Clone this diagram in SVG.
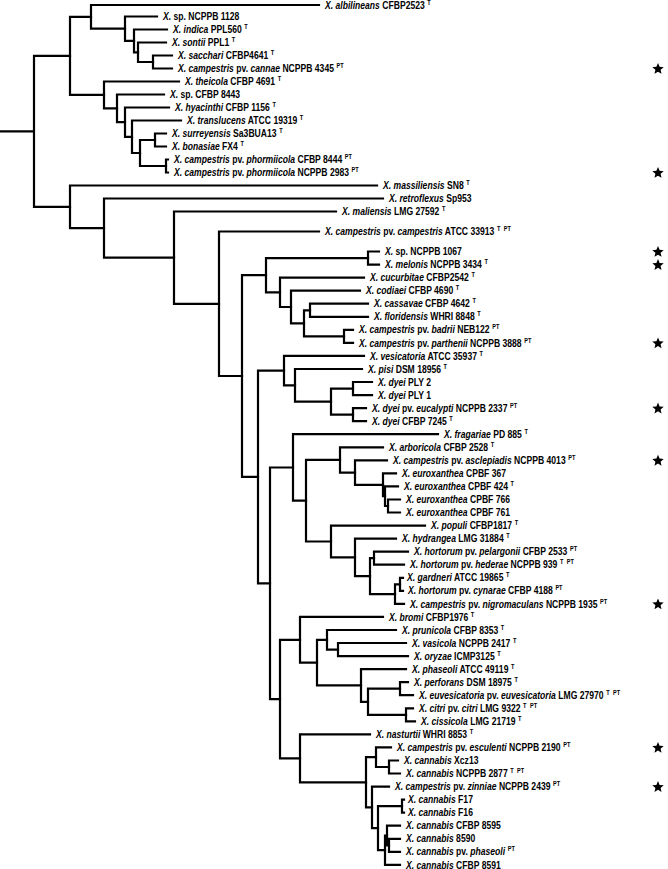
<svg xmlns="http://www.w3.org/2000/svg" xmlns:xlink="http://www.w3.org/1999/xlink" width="668" height="869" viewBox="0 0 668 869">
<style>
text { font-family: "Liberation Sans", Arial, sans-serif; font-size: 10px; font-weight: bold; fill: #000; }
.i { font-style: italic; }
.s { font-size: 6.5px; font-style: normal; }
.tree { fill: none; stroke: #000; stroke-width: 2.2; stroke-linecap: square; }
.star { fill: #000; }
</style>
<defs>
<path id="star" class="star" d="M0,-6 L1.59,-2.18 L5.71,-1.85 L2.57,0.83 L3.53,4.85 L0,2.7 L-3.53,4.85 L-2.57,0.83 L-5.71,-1.85 L-1.59,-2.18 Z"/>
</defs>
<rect width="668" height="869" fill="#fff"/>
<g id="connectors" class="tree">
<path d="M0 131.3H34 M34 55.9V206.8 M34 55.9H70 M34 206.8H70"/>
<path d="M70 16.8V94.9 M70 16.8H91 M70 94.9H104"/>
<path d="M91 5V28.7 M91 5H319 M91 28.7H125"/>
<path d="M125 16.5V40.9 M125 16.5H157 M125 40.9H134"/>
<path d="M134 29.5V52.3 M134 29.5H167 M134 52.3H138"/>
<path d="M138 42.5V62 M138 42.5H166 M138 62H153"/>
<path d="M153 55.5V68.5 M153 55.5H172 M153 68.5H172"/>
<path d="M104 81.5V108.3 M104 81.5H179 M104 108.3H117"/>
<path d="M117 94.5V122.1 M117 94.5H164 M117 122.1H125"/>
<path d="M125 107.5V136.8 M125 107.5H169 M125 136.8H132"/>
<path d="M132 120.5V153 M132 120.5H181 M132 153H140"/>
<path d="M140 140V166 M140 140H155 M140 166H166"/>
<path d="M155 133.5V146.5 M155 133.5H166 M155 146.5H166"/>
<path d="M166 159.5V172.5 M166 159.5H168 M166 172.5H168"/>
<path d="M70 185.5V228.1 M70 185.5H377 M70 228.1H104"/>
<path d="M104 198.5V257.6 M104 198.5H383 M104 257.6H174"/>
<path d="M174 211.5V303.8 M174 211.5H336 M174 303.8H219"/>
<path d="M219 231.5V376 M219 231.5H319 M219 376H242"/>
<path d="M242 275.2V476.9 M242 275.2H266 M242 476.9H258"/>
<path d="M266 258.1V292.3 M266 258.1H368 M266 292.3H280"/>
<path d="M368 251.5V264.6 M368 251.5H379 M368 264.6H379"/>
<path d="M280 277.6V307 M280 277.6H364 M280 307H291"/>
<path d="M291 290.7V323.3 M291 290.7H360 M291 323.3H304"/>
<path d="M304 310.3V336.4 M304 310.3H310 M304 336.4H344"/>
<path d="M310 303.7V316.8 M310 303.7H368 M310 316.8H368"/>
<path d="M344 329.8V342.9 M344 329.8H353 M344 342.9H353"/>
<path d="M258 370.6V583.3 M258 370.6H284 M258 583.3H270"/>
<path d="M284 355.9V385.3 M284 355.9H364 M284 385.3H295"/>
<path d="M295 369V401.6 M295 369H362 M295 401.6H331"/>
<path d="M331 388.6V414.7 M331 388.6H353 M331 414.7H353"/>
<path d="M353 382V395.1 M353 382H372 M353 395.1H372"/>
<path d="M353 408.1V421.2 M353 408.1H366 M353 421.2H366"/>
<path d="M270 467.5V699.1 M270 467.5H293 M270 699.1H280"/>
<path d="M293 434.2V500.7 M293 434.2H438 M293 500.7H306"/>
<path d="M306 459.9V541.5 M306 459.9H340 M306 541.5H331"/>
<path d="M340 447.3V472.6 M340 447.3H383 M340 472.6H355"/>
<path d="M355 460.3V484.8 M355 460.3H387 M355 484.8H383"/>
<path d="M383 473.4V496.2 M383 473.4H396 M383 496.2H385"/>
<path d="M385 486.4V506 M385 486.4H398 M385 506H388"/>
<path d="M388 499.5V512.5 M388 499.5H400 M388 512.5H400"/>
<path d="M331 525.6V557.4 M331 525.6H425 M331 557.4H355"/>
<path d="M355 538.6V576.2 M355 538.6H396 M355 576.2H370"/>
<path d="M370 558.2V594.1 M370 558.2H374 M370 594.1H395"/>
<path d="M374 551.7V564.7 M374 551.7H408 M374 564.7H404"/>
<path d="M395 584.3V603.9 M395 584.3H400 M395 603.9H404"/>
<path d="M400 577.8V590.8 M400 577.8H403 M400 590.8H403"/>
<path d="M280 639.8V758.4 M280 639.8H300 M280 758.4H300"/>
<path d="M300 616.9V662.6 M300 616.9H383 M300 662.6H317"/>
<path d="M317 639.8V685.4 M317 639.8H327 M317 685.4H361"/>
<path d="M327 630V649.6 M327 630H396 M327 649.6H338"/>
<path d="M338 643V656.1 M338 643H406 M338 656.1H408"/>
<path d="M361 669.1V701.8 M361 669.1H406 M361 701.8H368"/>
<path d="M368 688.7V714.8 M368 688.7H400 M368 714.8H406"/>
<path d="M400 682.2V695.2 M400 682.2H408 M400 695.2H413"/>
<path d="M406 708.3V721.3 M406 708.3H413 M406 721.3H415"/>
<path d="M300 734.4V782.3 M300 734.4H370 M300 782.3H366"/>
<path d="M366 757.2V807.4 M366 757.2H376 M366 807.4H372"/>
<path d="M376 747.4V767 M376 747.4H391 M376 767H389"/>
<path d="M389 760.5V773.5 M389 760.5H398 M389 773.5H400"/>
<path d="M372 786.6V828.2 M372 786.6H389 M372 828.2H378"/>
<path d="M378 806.2V850.2 M378 806.2H402 M378 850.2H385"/>
<path d="M402 799.6V812.7 M402 799.6H404 M402 812.7H404"/>
<path d="M385 835.5V864.9 M385 835.5H387 M385 864.9H400"/>
<path d="M387 825.7V845.3 M387 825.7H400 M387 845.3H389"/>
<path d="M389 838.8V851.8 M389 838.8H400 M389 851.8H400"/>
</g>
<g id="leaf01"><text transform="translate(325 8.6) scale(.86 1)"><tspan class="i">X. albilineans</tspan> CFBP2523<tspan class="s" dx="3" dy="-4">T</tspan></text></g>
<g id="leaf02"><text transform="translate(163 20.1) scale(.86 1)"><tspan class="i">X.</tspan> sp. NCPPB 1128</text></g>
<g id="leaf03"><text transform="translate(173 33.1) scale(.86 1)"><tspan class="i">X. indica</tspan> PPL560<tspan class="s" dx="3" dy="-4">T</tspan></text></g>
<g id="leaf04"><text transform="translate(172 46.1) scale(.86 1)"><tspan class="i">X. sontii</tspan> PPL1<tspan class="s" dx="3" dy="-4">T</tspan></text></g>
<g id="leaf05"><text transform="translate(178 59.1) scale(.86 1)"><tspan class="i">X. sacchari</tspan> CFBP4641<tspan class="s" dx="3" dy="-4">T</tspan></text></g>
<g id="leaf06"><text transform="translate(178 72.1) scale(.86 1)"><tspan class="i">X. campestris</tspan> pv. <tspan class="i">cannae</tspan> NCPPB 4345<tspan class="s" dx="3" dy="-4">PT</tspan></text><use href="#star" xlink:href="#star" x="658" y="69"/></g>
<g id="leaf07"><text transform="translate(185 85.1) scale(.86 1)"><tspan class="i">X. theicola</tspan> CFBP 4691<tspan class="s" dx="3" dy="-4">T</tspan></text></g>
<g id="leaf08"><text transform="translate(170 98.1) scale(.86 1)"><tspan class="i">X.</tspan> sp. CFBP 8443</text></g>
<g id="leaf09"><text transform="translate(175 111.1) scale(.86 1)"><tspan class="i">X. hyacinthi</tspan> CFBP 1156<tspan class="s" dx="3" dy="-4">T</tspan></text></g>
<g id="leaf10"><text transform="translate(187 124.1) scale(.86 1)"><tspan class="i">X. translucens</tspan> ATCC 19319<tspan class="s" dx="3" dy="-4">T</tspan></text></g>
<g id="leaf11"><text transform="translate(172 137.1) scale(.86 1)"><tspan class="i">X. surreyensis</tspan> Sa3BUA13<tspan class="s" dx="3" dy="-4">T</tspan></text></g>
<g id="leaf12"><text transform="translate(172 150.1) scale(.86 1)"><tspan class="i">X. bonasiae</tspan> FX4<tspan class="s" dx="3" dy="-4">T</tspan></text></g>
<g id="leaf13"><text transform="translate(174 163.1) scale(.86 1)"><tspan class="i">X. campestris</tspan> pv. <tspan class="i">phormiicola</tspan> CFBP 8444<tspan class="s" dx="3" dy="-4">PT</tspan></text></g>
<g id="leaf14"><text transform="translate(174 176.1) scale(.86 1)"><tspan class="i">X. campestris</tspan> pv. <tspan class="i">phormiicola</tspan> NCPPB 2983<tspan class="s" dx="3" dy="-4">PT</tspan></text><use href="#star" xlink:href="#star" x="658" y="173"/></g>
<g id="leaf15"><text transform="translate(383 189.1) scale(.86 1)"><tspan class="i">X. massiliensis</tspan> SN8<tspan class="s" dx="3" dy="-4">T</tspan></text></g>
<g id="leaf16"><text transform="translate(389 202.1) scale(.86 1)"><tspan class="i">X. retroflexus</tspan> Sp953</text></g>
<g id="leaf17"><text transform="translate(342 215.1) scale(.86 1)"><tspan class="i">X. maliensis</tspan> LMG 27592<tspan class="s" dx="3" dy="-4">T</tspan></text></g>
<g id="leaf18"><text transform="translate(325 235.1) scale(.86 1)"><tspan class="i">X. campestris</tspan> pv. <tspan class="i">campestris</tspan> ATCC 33913<tspan class="s" dx="3" dy="-4">T</tspan><tspan class="s" dx="4">PT</tspan></text></g>
<g id="leaf19"><text transform="translate(385 255.1) scale(.86 1)"><tspan class="i">X.</tspan> sp. NCPPB 1067</text><use href="#star" xlink:href="#star" x="658" y="252"/></g>
<g id="leaf20"><text transform="translate(385 268.2) scale(.86 1)"><tspan class="i">X. melonis</tspan> NCPPB 3434<tspan class="s" dx="3" dy="-4">T</tspan></text><use href="#star" xlink:href="#star" x="658" y="265.1"/></g>
<g id="leaf21"><text transform="translate(370 281.2) scale(.86 1)"><tspan class="i">X. cucurbitae</tspan> CFBP2542<tspan class="s" dx="3" dy="-4">T</tspan></text></g>
<g id="leaf22"><text transform="translate(366 294.3) scale(.86 1)"><tspan class="i">X. codiaei</tspan> CFBP 4690<tspan class="s" dx="3" dy="-4">T</tspan></text></g>
<g id="leaf23"><text transform="translate(374 307.3) scale(.86 1)"><tspan class="i">X. cassavae</tspan> CFBP 4642<tspan class="s" dx="3" dy="-4">T</tspan></text></g>
<g id="leaf24"><text transform="translate(374 320.4) scale(.86 1)"><tspan class="i">X. floridensis</tspan> WHRI 8848<tspan class="s" dx="3" dy="-4">T</tspan></text></g>
<g id="leaf25"><text transform="translate(359 333.4) scale(.86 1)"><tspan class="i">X. campestris</tspan> pv. <tspan class="i">badrii</tspan> NEB122<tspan class="s" dx="3" dy="-4">PT</tspan></text></g>
<g id="leaf26"><text transform="translate(359 346.5) scale(.86 1)"><tspan class="i">X. campestris</tspan> pv. <tspan class="i">parthenii</tspan> NCPPB 3888<tspan class="s" dx="3" dy="-4">PT</tspan></text><use href="#star" xlink:href="#star" x="658" y="343.4"/></g>
<g id="leaf27"><text transform="translate(370 359.5) scale(.86 1)"><tspan class="i">X. vesicatoria</tspan> ATCC 35937<tspan class="s" dx="3" dy="-4">T</tspan></text></g>
<g id="leaf28"><text transform="translate(368 372.6) scale(.86 1)"><tspan class="i">X. pisi</tspan> DSM 18956<tspan class="s" dx="3" dy="-4">T</tspan></text></g>
<g id="leaf29"><text transform="translate(378 385.6) scale(.86 1)"><tspan class="i">X. dyei</tspan> PLY 2</text></g>
<g id="leaf30"><text transform="translate(378 398.7) scale(.86 1)"><tspan class="i">X. dyei</tspan> PLY 1</text></g>
<g id="leaf31"><text transform="translate(372 411.7) scale(.86 1)"><tspan class="i">X. dyei</tspan> pv. <tspan class="i">eucalypti</tspan> NCPPB 2337<tspan class="s" dx="3" dy="-4">PT</tspan></text><use href="#star" xlink:href="#star" x="658" y="408.6"/></g>
<g id="leaf32"><text transform="translate(372 424.8) scale(.86 1)"><tspan class="i">X. dyei</tspan> CFBP 7245<tspan class="s" dx="3" dy="-4">T</tspan></text></g>
<g id="leaf33"><text transform="translate(444 437.8) scale(.86 1)"><tspan class="i">X. fragariae</tspan> PD 885<tspan class="s" dx="3" dy="-4">T</tspan></text></g>
<g id="leaf34"><text transform="translate(389 450.9) scale(.86 1)"><tspan class="i">X. arboricola</tspan> CFBP 2528<tspan class="s" dx="3" dy="-4">T</tspan></text></g>
<g id="leaf35"><text transform="translate(393 463.9) scale(.86 1)"><tspan class="i">X. campestris</tspan> pv. <tspan class="i">asclepiadis</tspan> NCPPB 4013<tspan class="s" dx="3" dy="-4">PT</tspan></text><use href="#star" xlink:href="#star" x="658" y="460.8"/></g>
<g id="leaf36"><text transform="translate(402 477) scale(.86 1)"><tspan class="i">X. euroxanthea</tspan> CPBF 367</text></g>
<g id="leaf37"><text transform="translate(404 490) scale(.86 1)"><tspan class="i">X. euroxanthea</tspan> CPBF 424<tspan class="s" dx="3" dy="-4">T</tspan></text></g>
<g id="leaf38"><text transform="translate(406 503.1) scale(.86 1)"><tspan class="i">X. euroxanthea</tspan> CPBF 766</text></g>
<g id="leaf39"><text transform="translate(406 516.1) scale(.86 1)"><tspan class="i">X. euroxanthea</tspan> CPBF 761</text></g>
<g id="leaf40"><text transform="translate(431 529.2) scale(.86 1)"><tspan class="i">X. populi</tspan> CFBP1817<tspan class="s" dx="3" dy="-4">T</tspan></text></g>
<g id="leaf41"><text transform="translate(402 542.2) scale(.86 1)"><tspan class="i">X. hydrangea</tspan> LMG 31884<tspan class="s" dx="3" dy="-4">T</tspan></text></g>
<g id="leaf42"><text transform="translate(414 555.3) scale(.86 1)"><tspan class="i">X. hortorum</tspan> pv. <tspan class="i">pelargonii</tspan> CFBP 2533<tspan class="s" dx="3" dy="-4">PT</tspan></text></g>
<g id="leaf43"><text transform="translate(410 568.3) scale(.86 1)"><tspan class="i">X. hortorum</tspan> pv. <tspan class="i">hederae</tspan> NCPPB 939<tspan class="s" dx="3" dy="-4">T</tspan><tspan class="s" dx="4">PT</tspan></text></g>
<g id="leaf44"><text transform="translate(407 581.4) scale(.86 1)"><tspan class="i">X. gardneri</tspan> ATCC 19865<tspan class="s" dx="3" dy="-4">T</tspan></text></g>
<g id="leaf45"><text transform="translate(408 594.4) scale(.86 1)"><tspan class="i">X. hortorum</tspan> pv. <tspan class="i">cynarae</tspan> CFBP 4188<tspan class="s" dx="3" dy="-4">PT</tspan></text></g>
<g id="leaf46"><text transform="translate(410 607.5) scale(.86 1)"><tspan class="i">X. campestris</tspan> pv. <tspan class="i">nigromaculans</tspan> NCPPB 1935<tspan class="s" dx="3" dy="-4">PT</tspan></text><use href="#star" xlink:href="#star" x="658" y="604.4"/></g>
<g id="leaf47"><text transform="translate(389 620.5) scale(.86 1)"><tspan class="i">X. bromi</tspan> CFBP1976<tspan class="s" dx="3" dy="-4">T</tspan></text></g>
<g id="leaf48"><text transform="translate(402 633.6) scale(.86 1)"><tspan class="i">X. prunicola</tspan> CFBP 8353<tspan class="s" dx="3" dy="-4">T</tspan></text></g>
<g id="leaf49"><text transform="translate(412 646.6) scale(.86 1)"><tspan class="i">X. vasicola</tspan> NCPPB 2417<tspan class="s" dx="3" dy="-4">T</tspan></text></g>
<g id="leaf50"><text transform="translate(414 659.7) scale(.86 1)"><tspan class="i">X. oryzae</tspan> ICMP3125<tspan class="s" dx="3" dy="-4">T</tspan></text></g>
<g id="leaf51"><text transform="translate(412 672.7) scale(.86 1)"><tspan class="i">X. phaseoli</tspan> ATCC 49119<tspan class="s" dx="3" dy="-4">T</tspan></text></g>
<g id="leaf52"><text transform="translate(414 685.8) scale(.86 1)"><tspan class="i">X. perforans</tspan> DSM 18975<tspan class="s" dx="3" dy="-4">T</tspan></text></g>
<g id="leaf53"><text transform="translate(419 698.8) scale(.86 1)"><tspan class="i">X. euvesicatoria</tspan> pv. <tspan class="i">euvesicatoria</tspan> LMG 27970<tspan class="s" dx="3" dy="-4">T</tspan><tspan class="s" dx="4">PT</tspan></text></g>
<g id="leaf54"><text transform="translate(419 711.9) scale(.86 1)"><tspan class="i">X. citri</tspan> pv. <tspan class="i">citri</tspan> LMG 9322<tspan class="s" dx="3" dy="-4">T</tspan><tspan class="s" dx="4">PT</tspan></text></g>
<g id="leaf55"><text transform="translate(421 724.9) scale(.86 1)"><tspan class="i">X. cissicola</tspan> LMG 21719<tspan class="s" dx="3" dy="-4">T</tspan></text></g>
<g id="leaf56"><text transform="translate(376 738) scale(.86 1)"><tspan class="i">X. nasturtii</tspan> WHRI 8853<tspan class="s" dx="3" dy="-4">T</tspan></text></g>
<g id="leaf57"><text transform="translate(397 751) scale(.86 1)"><tspan class="i">X. campestris</tspan> pv. <tspan class="i">esculenti</tspan> NCPPB 2190<tspan class="s" dx="3" dy="-4">PT</tspan></text><use href="#star" xlink:href="#star" x="658" y="747.9"/></g>
<g id="leaf58"><text transform="translate(404 764.1) scale(.86 1)"><tspan class="i">X. cannabis</tspan> Xcz13</text></g>
<g id="leaf59"><text transform="translate(406 777.1) scale(.86 1)"><tspan class="i">X. cannabis</tspan> NCPPB 2877<tspan class="s" dx="3" dy="-4">T</tspan><tspan class="s" dx="4">PT</tspan></text></g>
<g id="leaf60"><text transform="translate(395 790.2) scale(.86 1)"><tspan class="i">X. campestris</tspan> pv. <tspan class="i">zinniae</tspan> NCPPB 2439<tspan class="s" dx="3" dy="-4">PT</tspan></text><use href="#star" xlink:href="#star" x="658" y="787.1"/></g>
<g id="leaf61"><text transform="translate(408 803.2) scale(.86 1)"><tspan class="i">X. cannabis</tspan> F17</text></g>
<g id="leaf62"><text transform="translate(408 816.3) scale(.86 1)"><tspan class="i">X. cannabis</tspan> F16</text></g>
<g id="leaf63"><text transform="translate(406 829.3) scale(.86 1)"><tspan class="i">X. cannabis</tspan> CFBP 8595</text></g>
<g id="leaf64"><text transform="translate(406 842.4) scale(.86 1)"><tspan class="i">X. cannabis</tspan> 8590</text></g>
<g id="leaf65"><text transform="translate(406 855.4) scale(.86 1)"><tspan class="i">X. cannabis</tspan> pv. <tspan class="i">phaseoli</tspan><tspan class="s" dx="3" dy="-4">PT</tspan></text></g>
<g id="leaf66"><text transform="translate(406 868.5) scale(.86 1)"><tspan class="i">X. cannabis</tspan> CFBP 8591</text></g>
</svg>
